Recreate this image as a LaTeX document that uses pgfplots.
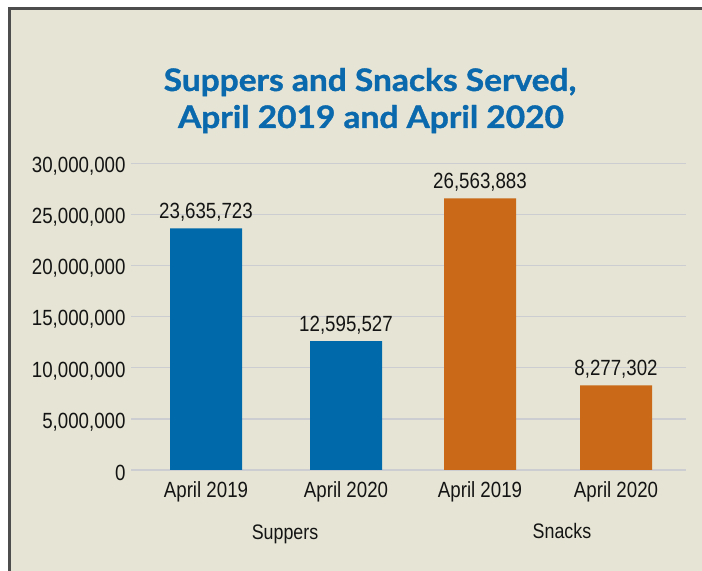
\documentclass[border=0pt]{standalone}
\usepackage{pgfplots}
\pgfplotsset{compat=1.18}
\usepackage{fontspec}
\setmainfont{Liberation Sans}[FakeStretch=0.85]
\newfontfamily\titlefont{Lato}[FakeStretch=1.08, BoldFeatures={FakeBold=1.2}]
\definecolor{bgc}{HTML}{E6E5D5}
\definecolor{bordc}{HTML}{4D4D4D}
\definecolor{barblue}{HTML}{0069AA}
\definecolor{barorange}{HTML}{CA6A18}
\definecolor{gridc}{HTML}{CBCDD0}
\definecolor{titleblue}{HTML}{0A68AC}
\begin{document}
\begin{tikzpicture}[x=1bp,y=1bp]
\path[use as bounding box] (0,0) rectangle (702,571);
\fill[white] (0,0) rectangle (702,571);
\fill[bgc] (9,0) rectangle (702,562);
\draw[bordc, line width=3bp] (9.5,0) -- (9.5,563.5);
\draw[bordc, line width=3bp] (8,562) -- (702,562);
\node[anchor=base, inner sep=0, text=titleblue, font=\titlefont\bfseries\fontsize{31bp}{36bp}\selectfont] at (370,480) {Suppers and Snacks Served,};
\node[anchor=base, inner sep=0, text=titleblue, font=\titlefont\bfseries\fontsize{31bp}{36bp}\selectfont] at (371,443) {April 2019 and April 2020};
\begin{axis}[
  at={(131bp,101bp)}, anchor=south west,
  scale only axis, width=555bp, height=306.7bp,
  xmin=0, xmax=555, ymin=0, ymax=30000000,
  axis line style={draw=none},
  ymajorgrids, grid style={gridc, line width=1.3bp},
  major tick length=0pt,
  ytick={0,5000000,10000000,15000000,20000000,25000000,30000000},
  scaled y ticks=false,
  yticklabel style={/pgf/number format/fixed, /pgf/number format/precision=0, /pgf/number format/1000 sep={,}, /pgf/number format/assume math mode=true, xshift=-2bp, yshift=-3bp},
  xtick={75,215,349,485},
  xticklabels={April 2019, April 2020, April 2019, April 2020},
  xticklabel style={anchor=base, yshift=-28bp},
  tick label style={font=\fontsize{22bp}{26bp}\selectfont, text=black!92},
  ybar, bar width=72bp, bar shift=0pt,
  point meta=explicit symbolic,
  nodes near coords,
  nodes near coords style={font=\fontsize{22bp}{26bp}\selectfont, text=black!92, anchor=base, yshift=10bp, inner sep=0pt},
  clip=false,
]
\addplot[draw=none, fill=barblue] table[x=x, y=y, meta=label] {
x y label
75 23635723 23,635,723
215 12595527 12,595,527
};
\addplot[draw=none, fill=barorange] table[x=x, y=y, meta=label] {
x y label
349 26563883 26,563,883
485 8277302 8,277,302
};
\end{axis}
\node[anchor=base, inner sep=0, font=\fontsize{21bp}{25bp}\selectfont, text=black!92] at (285,31) {Suppers};
\node[anchor=base, inner sep=0, font=\fontsize{21bp}{25bp}\selectfont, text=black!92] at (562,32) {Snacks};
\end{tikzpicture}
\end{document}
